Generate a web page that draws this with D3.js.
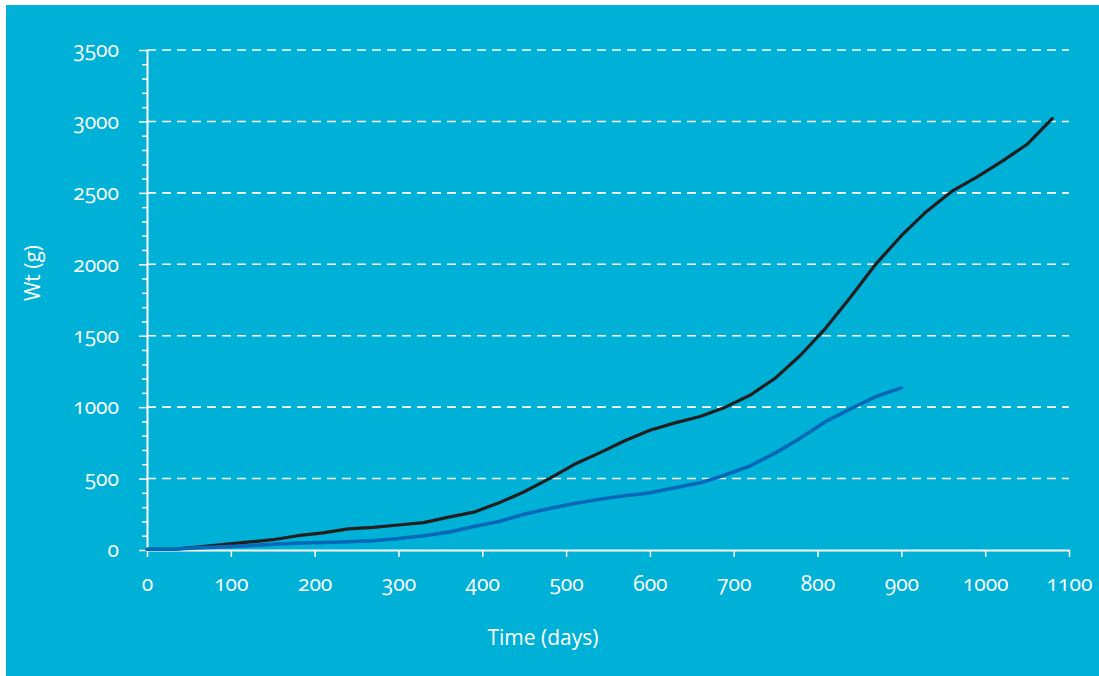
<!DOCTYPE html>
<html><head><meta charset="utf-8">
<script src="https://cdn.jsdelivr.net/npm/d3@7"></script>
<style>
html,body{margin:0;padding:0;background:#fff;}
svg text{font-family:"Open Sans","Lato",sans-serif;font-variant-numeric:oldstyle-nums;font-feature-settings:"onum" 1;}
</style></head>
<body>
<svg id="chart" width="1099" height="676"></svg>
<script>
const days = [0,30,60,90,120,150,180,210,240,270,300,330,360,390,420,450,480,510,540,570,600,630,660,690,720,750,780,810,840,870,900,930,960,990,1020,1050,1080];
const seriesBlack = [5,5,20,38,55,72,100,120,148,158,175,192,230,265,330,408,500,600,680,765,838,890,935,1000,1085,1205,1365,1555,1775,2005,2200,2370,2510,2610,2720,2840,3020];
const seriesBlue = [5,5,15,22,30,40,48,52,58,65,80,100,125,165,200,250,290,325,355,380,400,435,470,525,590,680,785,900,990,1075,1135];
const xTicks = [0,100,200,300,400,500,600,700,800,900,1000,1100];
const yTicks = [0,500,1000,1500,2000,2500,3000,3500];
const yMinorTicks = d3.range(0,3501,100);
const xTitle = "Time (days)";
const yTitle = "Wt (g)";

const svg = d3.select("#chart");
svg.append("rect").attr("x",6).attr("y",5).attr("width",1093).attr("height",671).attr("fill","#00B1D7");

const x = d3.scaleLinear().domain([0,1100]).range([147,1069]);
const y = d3.scaleLinear().domain([0,3500]).range([550,50]);

// gridlines
svg.append("g").selectAll("line").data(yTicks.filter(d=>d>0)).join("line")
  .attr("x1",x(0)).attr("x2",x(1100)).attr("y1",d=>y(d)).attr("y2",d=>y(d))
  .attr("stroke","#fff").attr("stroke-width",1.6).attr("stroke-dasharray","9,6");

// y axis minor
const gy = svg.append("g").attr("transform",`translate(${x(0)},0)`);
gy.append("g").call(d3.axisLeft(y).tickValues(yMinorTicks.filter(d=>d%500!==0)).tickSize(5).tickFormat(""))
  .call(g=>{g.select(".domain").remove(); g.selectAll("line").attr("stroke","#fff").attr("stroke-width",1.5);});
gy.append("g").call(d3.axisLeft(y).tickValues(yTicks).tickSize(8).tickSizeOuter(0).tickPadding(20).tickFormat(d3.format("d")))
  .call(g=>{g.select(".domain").attr("stroke","#fff").attr("stroke-width",2);
    g.selectAll("line").attr("stroke","#fff").attr("stroke-width",1.5);
    g.selectAll("text").attr("fill","#fff").style("font-size","21px");});

// x axis
svg.append("g").attr("transform",`translate(0,${y(0)})`)
  .call(d3.axisBottom(x).tickValues(xTicks).tickSize(7).tickSizeOuter(0).tickPadding(19).tickFormat(d3.format("d")))
  .call(g=>{g.select(".domain").attr("stroke","#fff").attr("stroke-width",2);
    g.selectAll("line").attr("stroke","#fff").attr("stroke-width",1.5);
    g.selectAll("text").attr("fill","#fff").style("font-size","21px");});

const line = d3.line().x((d,i)=>x(days[i])).y(d=>y(d));
svg.append("path").datum(seriesBlack).attr("d",line).attr("fill","none")
  .attr("stroke","#231F20").attr("stroke-width",3.2).attr("stroke-linejoin","round").attr("stroke-linecap","round");
svg.append("path").datum(seriesBlue).attr("d",line).attr("fill","none")
  .attr("stroke","#0868B8").attr("stroke-width",3.6).attr("stroke-linejoin","round").attr("stroke-linecap","round");

svg.append("text").attr("x",543).attr("y",645).attr("text-anchor","middle")
  .attr("fill","#fff").style("font-size","21px").text(xTitle);
svg.append("text").attr("transform","translate(40,273) rotate(-90)").attr("text-anchor","middle")
  .attr("fill","#fff").style("font-size","21px").text(yTitle);
</script>
</body></html>
